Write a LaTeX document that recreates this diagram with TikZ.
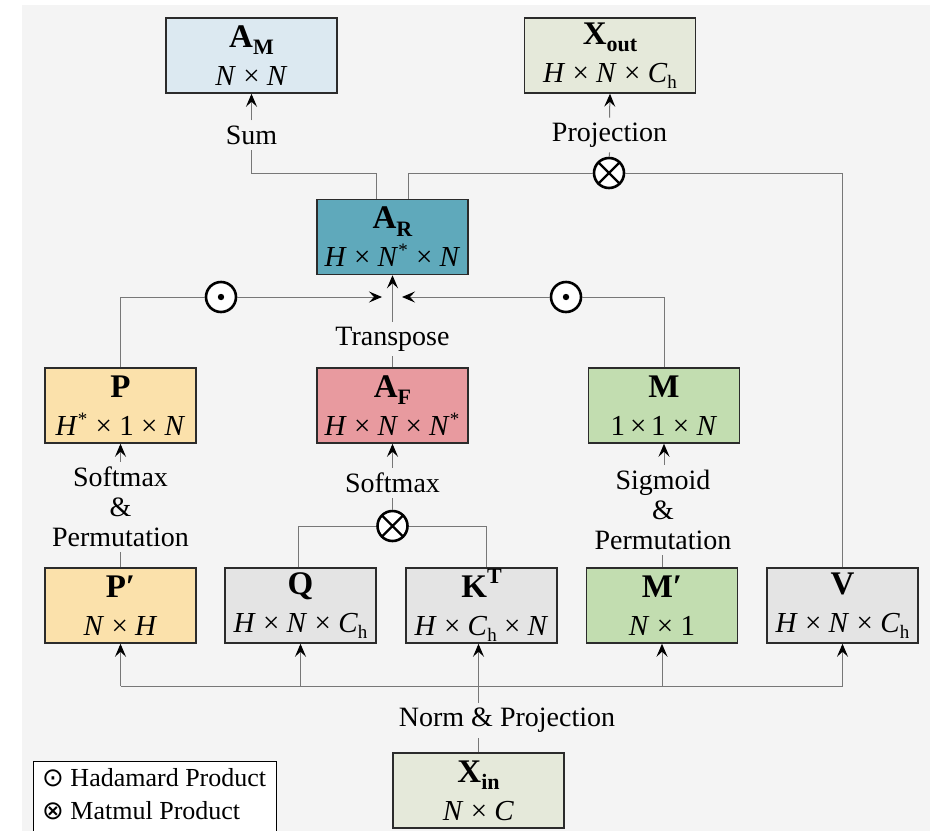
\documentclass[tikz,border=0pt]{standalone}
\usepackage{fontspec}
\setmainfont{Liberation Serif}
\newfontfamily\symfont{DejaVu Sans}
\usetikzlibrary{arrows.meta,calc}
\definecolor{bgc}{HTML}{F4F4F4}
\definecolor{cAM}{HTML}{DCE9F1}
\definecolor{cX}{HTML}{E5E9DA}
\definecolor{cAR}{HTML}{5FA9BB}
\definecolor{cP}{HTML}{FBE1AB}
\definecolor{cAF}{HTML}{E89A9F}
\definecolor{cM}{HTML}{C2DDB0}
\definecolor{cG}{HTML}{E4E4E4}
\definecolor{bord}{HTML}{2B2B2B}
\definecolor{lineg}{HTML}{777777}
\newcommand\sbs[1]{\raisebox{-0.22em}{\fontsize{22}{22}\selectfont #1}}
\newcommand\sps[1]{\raisebox{0.4em}{\fontsize{22}{22}\selectfont #1}}
\newcommand\dimsub[1]{\raisebox{-0.22em}{\fontsize{19}{19}\selectfont #1}}
\newcommand\dimsup[1]{\raisebox{0.35em}{\fontsize{19}{19}\selectfont #1}\kern1pt}
\newcommand\bxt[2]{{\fontsize{33}{38}\selectfont\bfseries #1}\\{\fontsize{29}{38}\selectfont #2}}
\newcommand\tm{\ ×\ }
\begin{document}
\begin{tikzpicture}[x=1pt,y=-1pt,
  box/.style={draw=bord, line width=1.5pt, minimum width=151pt, minimum height=75pt, inner sep=0pt, align=center, font=\fontsize{29}{38}\selectfont},
  wbox/.style={box, minimum width=171pt},
  lbl/.style={font=\fontsize{28}{30}\selectfont, inner sep=5pt, align=center},
  conn/.style={draw=lineg, line width=1pt},
  arr/.style={conn, -{Stealth[length=13pt,width=11pt,inset=5pt,color=black]}},
  had/.style={circle, draw=black, line width=2.6pt, fill=white, minimum size=30pt, inner sep=0pt,
     path picture={\fill[black] (path picture bounding box.center) circle (3.2pt);}},
  mat/.style={circle, draw=black, line width=2.6pt, fill=white, minimum size=30pt, inner sep=0pt,
     path picture={\draw[black,line width=2.4pt] (path picture bounding box.north west) -- (path picture bounding box.south east)
       (path picture bounding box.north east) -- (path picture bounding box.south west);}}
]
\useasboundingbox (0,0) rectangle (933,830);
\fill[white] (0,0) rectangle (933,830);
\fill[bgc] (22,5) rectangle (930,835);

% boxes
\node[wbox, fill=cAM] (AM) at (251.5,55.5) {\bxt{A\sbs{M}}{\textit{N}\tm\textit{N}}};
\node[wbox, fill=cX] (Xout) at (610,55.5) {\bxt{X\sbs{out}}{\textit{H}\tm\textit{N}\tm\textit{C}\dimsub{h}}};
\node[box, fill=cAR] (AR) at (392.5,237) {\bxt{A\sbs{R}}{\textit{H}\tm\textit{N}\dimsup{*}\tm\textit{N}}};
\node[box, fill=cP] (P) at (120.5,405.5) {\bxt{P}{\textit{H}\dimsup{*}\tm1\tm\textit{N}}};
\node[box, fill=cAF] (AF) at (392.5,405.5) {\bxt{A\sbs{F}}{\textit{H}\tm\textit{N}\tm\textit{N}\dimsup{*}}};
\node[box, fill=cM] (M) at (664,405.5) {\bxt{M}{1\,×\,1\tm\textit{N}}};
\node[box, fill=cP] (Pp) at (120.5,605.5) {\bxt{P′}{\textit{N}\tm\textit{H}}};
\node[box, fill=cG] (Q) at (300.5,605.5) {\bxt{Q}{\textit{H}\tm\textit{N}\tm\textit{C}\dimsub{h}}};
\node[box, fill=cG] (K) at (481.5,605.5) {\bxt{K\sps{T}}{\textit{H}\tm\textit{C}\dimsub{h}\tm\textit{N}}};
\node[box, fill=cM] (Mp) at (662,605.5) {\bxt{M′}{\textit{N}\tm1}};
\node[box, fill=cG] (V) at (842.5,605.5) {\bxt{V}{\textit{H}\tm\textit{N}\tm\textit{C}\dimsub{h}}};
\node[wbox, fill=cX] (Xin) at (478.5,790.5) {\bxt{X\sbs{in}}{\textit{N}\tm\textit{C}}};

% operators
\node[had] (h1) at (221,297) {};
\node[had] (h2) at (566,297) {};
\node[mat] (m1) at (609,173) {};
\node[mat] (m2) at (392.5,526) {};

% labels
\node[lbl] (sum) at (251.5,135) {Sum};
\node[lbl] (proj) at (609.5,135) {Projection};
\node[lbl] (tp) at (392.5,339) {Transpose};
\node[lbl] (sp) at (120.5,507) {Softmax\\\&\\Permutation};
\node[lbl] (sm) at (392.5,483) {Softmax};
\node[lbl] (sg) at (663,510) {Sigmoid\\\&\\Permutation};
\node[lbl] (nm) at (507,720) {Norm \& Projection};

\coordinate (tj) at (0,173);
\coordinate (tl) at (382,297);
\coordinate (tr) at (402,297);
\coordinate (bus) at (0,686);

% top connections
\draw[conn] ($(AR.north)+(-16,0)$) |- (sum.south |- tj) -- (sum.south);
\draw[arr] (sum.north) -- (AM.south);
\draw[conn] ($(AR.north)+(16,0)$) |- (m1);
\draw[conn] (V.north) |- (m1);
\draw[conn] (m1) -- (proj.south);
\draw[arr] (proj.north) -- (Xout.south);

% hadamard
\draw[conn] (P.north) |- (h1);
\draw[arr] (h1) -- (tl);
\draw[conn] (M.north) |- (h2);
\draw[arr] (h2) -- (tr);
\draw[conn] (AF.north) -- (tp.south);
\draw[arr] (tp.north) -- (AR.south);

% middle row
\draw[conn] (Pp.north) -- (sp.south);
\draw[arr] (sp.north) -- (P.south);
\draw[conn] ($(Q.north)+(-2,0)$) |- (m2);
\draw[conn] ($(K.north)+(5,0)$) |- (m2);
\draw[conn] (m2) -- (sm.south);
\draw[arr] (sm.north) -- (AF.south);
\draw[conn] (Mp.north) -- (Mp.north |- sg.south);
\draw[arr] (M.south |- sg.north) -- (M.south);

% bus
\draw[conn] (Pp.south |- bus) -- (V.south |- bus);
\foreach \n in {Pp,Q,Mp,V} \draw[arr] (\n.south |- bus) -- (\n.south);
\draw[conn] (Xin.north) -- (Xin.north |- nm.south);
\draw[arr] (Xin.north |- nm.north) -- (Xin.north |- K.south);

% legend
\node[draw=black, line width=1pt, fill=white, anchor=north west, minimum width=243pt, minimum height=80pt, inner sep=0pt] (leg) at (33,761) {};
\node[anchor=west, inner sep=0pt, font=\fontsize{26}{26}\selectfont] (l1) at (42,778) {{\symfont ⊙} Hadamard Product};
\node[anchor=west, inner sep=0pt, font=\fontsize{26}{26}\selectfont] (l2) at (42,811) {{\symfont ⊗} Matmul Product};
\end{tikzpicture}
\end{document}
